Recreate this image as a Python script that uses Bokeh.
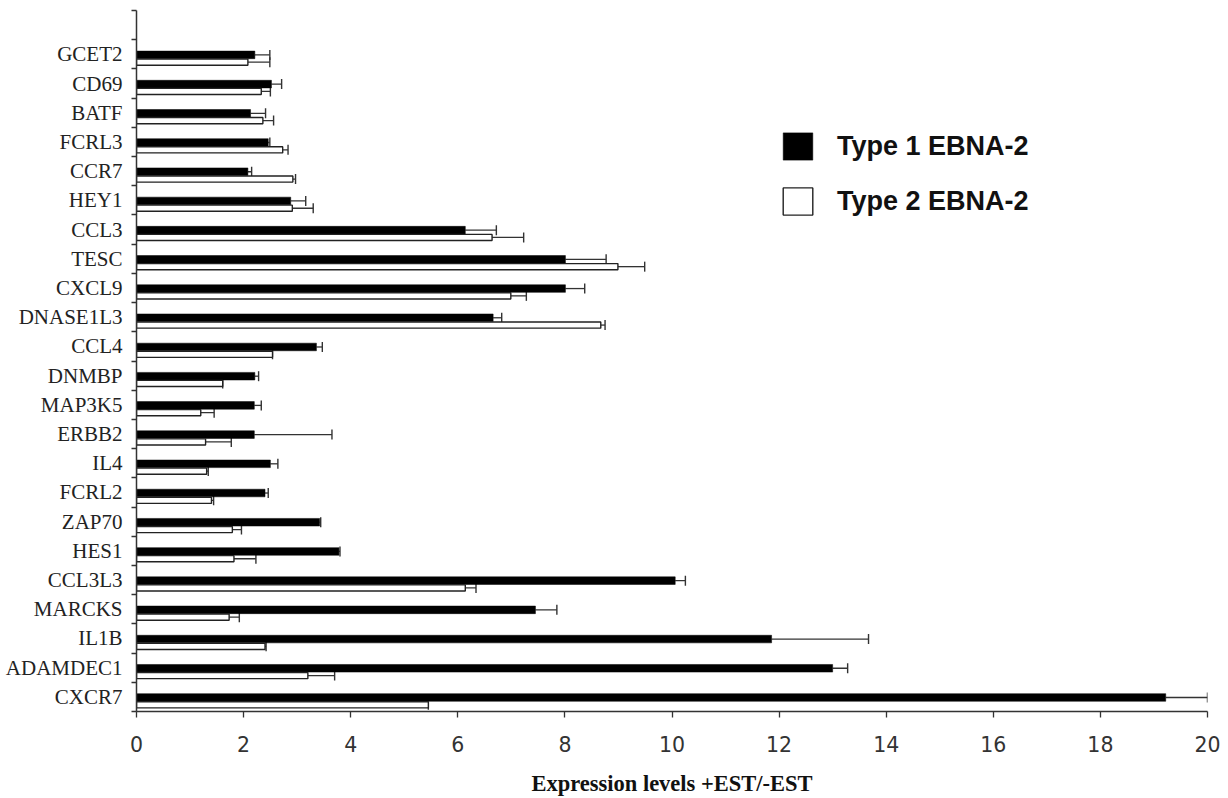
import numpy as np
from bokeh.plotting import figure
from bokeh.models import (ColumnDataSource, Range1d, FixedTicker, Whisker, TeeHead,
                          Legend, LegendItem)
from bokeh.transform import dodge
from bokeh.embed import file_html
from bokeh.resources import INLINE

# ---- data (top to bottom as in the chart) ----
genes = ["GCET2", "CD69", "BATF", "FCRL3", "CCR7", "HEY1", "CCL3", "TESC", "CXCL9",
         "DNASE1L3", "CCL4", "DNMBP", "MAP3K5", "ERBB2", "IL4", "FCRL2", "ZAP70",
         "HES1", "CCL3L3", "MARCKS", "IL1B", "ADAMDEC1", "CXCR7"]
type1 = [2.21, 2.52, 2.13, 2.46, 2.08, 2.88, 6.14, 8.01, 8.01, 6.66, 3.36, 2.21,
         2.20, 2.20, 2.50, 2.40, 3.42, 3.78, 10.06, 7.45, 11.86, 13.00, 19.22]
type1_upper = [2.49, 2.71, 2.41, 2.49, 2.15, 3.16, 6.72, 8.77, 8.37, 6.82, 3.47, 2.28,
               2.33, 3.65, 2.64, 2.46, 3.44, 3.80, 10.25, 7.85, 13.67, 13.28, 20.00]
type2 = [2.08, 2.33, 2.36, 2.73, 2.92, 2.91, 6.64, 8.99, 6.99, 8.67, 2.54, 1.61,
         1.20, 1.29, 1.31, 1.40, 1.79, 1.82, 6.14, 1.73, 2.40, 3.20, 5.45]
type2_upper = [2.49, 2.50, 2.56, 2.83, 2.97, 3.30, 7.23, 9.49, 7.28, 8.75, 2.54, 1.61,
               1.45, 1.77, 1.34, 1.44, 1.96, 2.23, 6.34, 1.92, 2.42, 3.70, 5.45]
x_ticks = [0, 2, 4, 6, 8, 10, 12, 14, 16, 18, 20]
series_labels = ["Type 1 EBNA-2", "Type 2 EBNA-2"]
x_title = "Expression levels +EST/-EST"

n = len(genes)
pos = [float(n - 1 - i) + 0.5 for i in range(n)]   # category centres, GCET2 on top
bounds = list(range(0, n + 2))                       # band boundaries (ticks)

src = ColumnDataSource(dict(gene=genes, y=pos, t1=type1, t1u=type1_upper,
                            t2=type2, t2u=type2_upper))

p = figure(width=1226, height=798, x_range=Range1d(0, 20), y_range=Range1d(0, n + 1),
           output_backend="svg", toolbar_location=None,
           min_border_left=136, min_border_right=19, min_border_top=10, min_border_bottom=86)
p.outline_line_color = None
p.xgrid.visible = False
p.ygrid.visible = False

AX = "#333333"

b1 = p.hbar(y=dodge("y", -0.02), left=0, right="t1", height=0.26, source=src,
            fill_color="black", line_color="black", line_width=0.5)
b2 = p.hbar(y=dodge("y", -0.27), left=0, right="t2", height=0.21, source=src,
            fill_color="white", line_color="#222222", line_width=1.4)

for base, lo, up in [(dodge("y", -0.02), "t1", "t1u"), (dodge("y", -0.27), "t2", "t2u")]:
    w = Whisker(source=src, base=base, lower=lo, upper=up, dimension="width",
                line_color=AX, line_width=1.3, lower_head=None,
                upper_head=TeeHead(size=10, line_color=AX, line_width=1.4))
    p.add_layout(w)

legend = Legend(items=[LegendItem(label=series_labels[0], renderers=[b1]),
                       LegendItem(label=series_labels[1], renderers=[b2])],
                location=(643, 493), glyph_width=37, glyph_height=34, label_height=34,
                spacing=21, label_standoff=21, padding=0, margin=0,
                border_line_color=None, background_fill_alpha=0,
                label_text_font="Liberation Sans", label_text_font_style="bold",
                label_text_font_size="27px", label_text_color="#111111")
p.add_layout(legend)

# y axis
yax = p.yaxis[0]
yax.ticker = FixedTicker(ticks=pos, minor_ticks=bounds)
yax.major_label_overrides = {y: g for y, g in zip(pos, genes)}
yax.major_tick_line_color = None
yax.major_tick_out = 4
yax.major_tick_in = 0
yax.minor_tick_out = 5
yax.minor_tick_in = 0
yax.minor_tick_line_color = AX
yax.minor_tick_line_width = 1.3
yax.axis_line_color = AX
yax.axis_line_width = 1.5
yax.major_label_standoff = 9
yax.major_label_text_font = "Liberation Serif"
yax.major_label_text_font_size = "21px"
yax.major_label_text_color = "#222222"

# x axis
xax = p.xaxis[0]
xax.ticker = FixedTicker(ticks=x_ticks)
xax.minor_tick_line_color = None
xax.major_tick_out = 6
xax.major_tick_in = 0
xax.major_tick_line_color = AX
xax.major_tick_line_width = 1.3
xax.axis_line_color = AX
xax.axis_line_width = 1.5
xax.major_label_standoff = 18
xax.major_label_text_font = "DejaVu Sans"
xax.major_label_text_font_size = "20.5px"
xax.major_label_text_color = "#333333"
xax.axis_label = x_title
xax.axis_label_standoff = 16
xax.axis_label_text_font = "Liberation Serif"
xax.axis_label_text_font_style = "bold"
xax.axis_label_text_font_size = "22.5px"
xax.axis_label_text_color = "#111111"

open("out.html", "w").write(file_html(p, INLINE))
